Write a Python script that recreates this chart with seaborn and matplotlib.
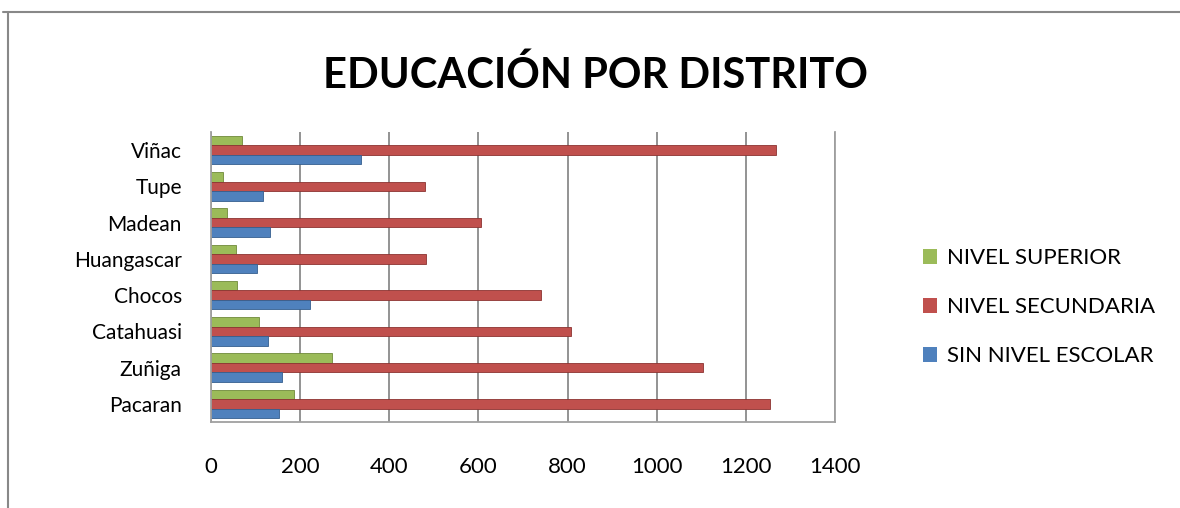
import seaborn as sns
import pandas as pd
import matplotlib.pyplot as plt
from matplotlib.lines import Line2D

distritos = ['Viñac', 'Tupe', 'Madean', 'Huangascar', 'Chocos', 'Catahuasi', 'Zuñiga', 'Pacaran']
niveles = ['NIVEL SUPERIOR', 'NIVEL SECUNDARIA', 'SIN NIVEL ESCOLAR']
superior = [70, 27, 36, 56, 59, 108, 271, 187]
secundaria = [1268, 481, 605, 483, 740, 808, 1104, 1255]
sin_nivel = [336, 117, 133, 104, 223, 129, 160, 153]
xticks = [0, 200, 400, 600, 800, 1000, 1200, 1400]

colores = ['#9BBB59', '#C0504D', '#4F81BD']

df = pd.DataFrame({
    'distrito': distritos * 3,
    'nivel': [n for n in niveles for _ in distritos],
    'valor': superior + secundaria + sin_nivel,
})

sns.set_style('white')
plt.rcParams['font.family'] = ['Lato', 'DejaVu Sans']
plt.rcParams['text.color'] = 'black'
plt.rcParams['xtick.color'] = 'black'
plt.rcParams['ytick.color'] = 'black'

fig = plt.figure(figsize=(11.8, 5.08), dpi=100)
ax = fig.add_axes([211 / 1180, 1 - 422 / 508, 624 / 1180, 290 / 508])

sns.barplot(data=df, y='distrito', x='valor', hue='nivel', order=distritos,
            hue_order=niveles, palette=colores, orient='h', width=0.78,
            ax=ax, edgecolor='none', saturation=1)
for bars, c in zip(ax.containers, ['#6f8a3a', '#8c3331', '#355f8f']):
    for b in bars:
        b.set_edgecolor(c)
        b.set_linewidth(0.6)

ax.set_xlim(0, 1400)
ax.set_xticks(xticks)
ax.set_xticklabels([str(v) for v in xticks])
ax.set_xlabel('')
ax.set_ylabel('')
ax.tick_params(axis='x', labelsize=16, pad=25, length=0)
ax.tick_params(axis='y', labelsize=15, pad=21, length=0)
ax.grid(axis='x', color='#8a8a8a', linewidth=1.3)
ax.set_axisbelow(True)
ax.spines['top'].set_visible(False)
for s in ['left', 'bottom', 'right']:
    ax.spines[s].set_color('#a0a0a0')
    ax.spines[s].set_linewidth(1.3)

leg = ax.legend(loc='center left', bbox_to_anchor=(903 / 1180, 1 - 307 / 508),
                bbox_transform=fig.transFigure, frameon=False, fontsize=16,
                handlelength=0.65, handleheight=0.65, handletextpad=0.45,
                labelspacing=1.3, title=None)

fig.text(0.505, 1 - 75 / 508, 'EDUCACIÓN POR DISTRITO', ha='center', va='center',
         fontsize=30, fontweight='bold')

# marco del grafico
fig.add_artist(Line2D([3 / 1180, 1], [1 - 12 / 508] * 2, color='#888888', lw=1.5,
                      transform=fig.transFigure))
fig.add_artist(Line2D([8 / 1180] * 2, [0, 1 - 12 / 508], color='#888888', lw=1.5,
                      transform=fig.transFigure))

fig.savefig('out.png', dpi=100)
